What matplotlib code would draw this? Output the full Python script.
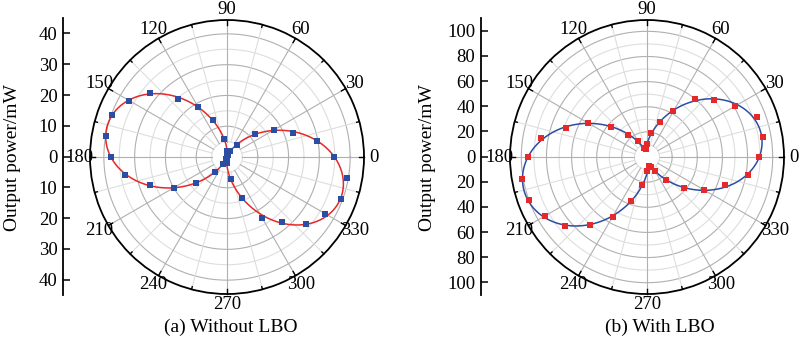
import numpy as np
import matplotlib
matplotlib.use('Agg')
from matplotlib import pyplot as plt

plt.rcParams['font.family'] = ['Liberation Serif', 'DejaVu Serif']

# polarization angle (deg) and measured output power (mW)
angle = np.arange(0, 360, 10)
power_a = [34.6, 29.7, 22.8, 17.8, 11.8, 5.3, 2.2, 0.8, 0.5, 2.0, 5.9, 12.9,
           18.7, 24.8, 32.6, 36.6, 39.8, 39.8, 37.7, 33.8, 26.7, 19.9, 13.0, 6.3,
           2.8, 0.8, 0.6, 2.0, 7.1, 14.0, 22.9, 27.7, 33.7, 36.7, 39.5, 39.5]
power_b = [89.3, 93.4, 93.0, 81.2, 70.0, 60.0, 42.1, 29.9, 19.5, 10.7, 6.5, 7.5,
           14.5, 23.3, 37.3, 54.5, 68.6, 85.5, 94.7, 100.8, 99.5, 93.7, 85.6, 70.6,
           54.7, 37.6, 23.0, 11.5, 7.1, 8.8, 13.3, 24.1, 38.4, 52.4, 66.1, 81.2]

angle_labels = ['0', '30', '60', '90', '120', '150', '180',
                '210', '240', '270', '300', '330']
yticks_a = [-40, -30, -20, -10, 0, 10, 20, 30, 40]
yticks_b = [-100, -80, -60, -40, -20, 0, 20, 40, 60, 80, 100]
captions = ['(a) Without LBO', '(b) With LBO']


def fit_curve(theta_deg, r, nharm=4):
    # least squares Fourier fit of the measured points -> smooth closed curve
    t = np.radians(theta_deg)
    cols = [np.ones_like(t)]
    for k in range(1, nharm + 1):
        cols += [np.cos(k * t), np.sin(k * t)]
    coef, *_ = np.linalg.lstsq(np.column_stack(cols), np.asarray(r), rcond=None)
    tt = np.linspace(0, 2 * np.pi, 721)
    rr = coef[0] * np.ones_like(tt)
    for k in range(1, nharm + 1):
        rr += coef[2 * k - 1] * np.cos(k * tt) + coef[2 * k] * np.sin(k * tt)
    return tt, np.clip(rr, 0, None)


def polar_panel(fig, rect, data, rmax, ring_step, mcolor, lcolor):
    ax = fig.add_axes(rect, projection='polar')
    ax.set_ylim(0, rmax)
    ax.grid(False)
    ax.set_yticks([])
    full = np.linspace(0, 2 * np.pi, 361)
    rings = np.arange(ring_step, rmax, ring_step)
    for i, r in enumerate(rings, start=1):
        dark = (i % 2 == 0)
        ax.plot(full, np.full_like(full, r), color='#b0b0b0' if dark else '#dedede',
                lw=0.8, zorder=1)
    for a in range(0, 360, 15):
        dark = (a % 30 == 0)
        ax.plot([np.radians(a)] * 2, [ring_step, rmax],
                color='#b0b0b0' if dark else '#dedede', lw=0.8, zorder=1)
        # little inward ticks on the rim
        ln = 0.035 if dark else 0.02
        ax.plot([np.radians(a)] * 2, [rmax * (1 - ln), rmax], color='black',
                lw=1.0, zorder=3, clip_on=False)
    ax.spines['polar'].set_linewidth(1.3)
    ax.set_thetagrids(np.arange(0, 360, 30), angle_labels, fontsize=13.5)
    ax.tick_params(axis='x', pad=0.5, length=0)

    tt, rr = fit_curve(angle, data)
    ax.plot(tt, rr, color=lcolor, lw=1.1, zorder=4)
    ax.plot(np.radians(angle), data, ls='none', marker='s', ms=4.8, mew=0,
            color=mcolor, zorder=5)
    return ax


def side_axis(fig, rect, lim, ticks):
    ax = fig.add_axes(rect)
    ax.set_ylim(-lim, lim)
    ax.set_xlim(0, 1)
    for s in ['top', 'right', 'bottom']:
        ax.spines[s].set_visible(False)
    ax.spines['left'].set_linewidth(1.3)
    ax.set_xticks([])
    ax.set_yticks(ticks)
    ax.set_yticklabels([str(abs(t)) for t in ticks], fontsize=13.5)
    ax.tick_params(axis='y', direction='in', length=5, width=1.1, pad=4)
    ax.patch.set_alpha(0)
    return ax


fig = plt.figure(figsize=(8, 3.55), dpi=100)

blue = '#2b4ea3'
red = '#e5282a'

side_axis(fig, [0.0788, 0.169, 0.3, 0.780], 45, yticks_a)
polar_panel(fig, [0.1125, 0.1718, 0.3425, 0.7718], power_a, 44.5, 5, blue, red)

side_axis(fig, [0.601, 0.169, 0.3, 0.780], 110, yticks_b)
polar_panel(fig, [0.6375, 0.1718, 0.3425, 0.7718], power_b, 109, 10, red, blue)

fig.text(0.016, 0.557, 'Output power/mW', rotation=90, ha='center', va='center', fontsize=14)
fig.text(0.534, 0.557, 'Output power/mW', rotation=90, ha='center', va='center', fontsize=14)

fig.text(0.288, 0.078, captions[0], ha='center', va='center', fontsize=14)
fig.text(0.825, 0.078, captions[1], ha='center', va='center', fontsize=14)

plt.savefig('out.png', dpi=100)
